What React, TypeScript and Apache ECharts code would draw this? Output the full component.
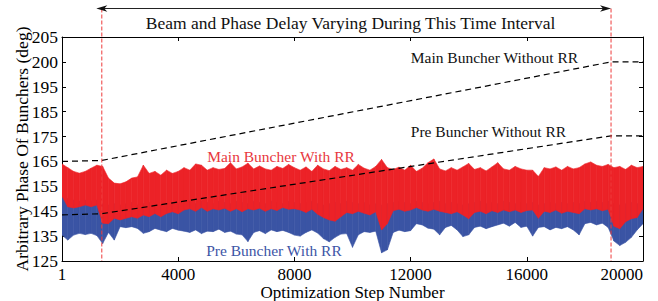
import React, { useEffect, useRef } from "react";
import * as echarts from "echarts";

const FONT = '"Liberation Serif", "Times New Roman", serif';

// Sampling grid of the noisy traces (optimization steps)
const SAMPLE_STEP = 200;

// Axis ticks
const xTickValues = [0, 4000, 8000, 12000, 16000, 20000];
const xTickLabels = ["1", "4000", "8000", "12000", "16000", "20000"];
const yTickLabels = ["125", "135", "145", "155", "165", "175", "185", "195", "200", "205"];

// Interval where beam and phase delay vary
const varyStart = 1370;
const varyEnd = 18900;

// Dashed traces (without RR)
const mainNoRRSteps = [0, 1370, 18900, 20000];
const mainNoRRValues = [165, 165.4, 205, 205];
const preNoRRSteps = [0, 1370, 18900, 20000];
const preNoRRValues = [143.5, 144, 175.3, 175.3];

// Envelope of "Main Buncher With RR" (every SAMPLE_STEP steps)
const mainRRHigh = [
  164, 162.5, 161, 160.3, 161, 162.3, 163.5, 163, 158.3, 156.3,
  156, 156.8, 158.3, 158.8, 163.5, 160.2, 161, 159.5, 161.5, 160.2,
  161, 162.5, 161.5, 164, 163.5, 161.5, 162.5, 161.8, 162.2, 164.5,
  162, 162.8, 164.3, 162, 163.2, 162, 161.5, 163, 162.2, 163.8,
  162.5, 161.5, 162.8, 161, 163.5, 162, 161.3, 163, 161.8, 162.5,
  161.5, 163.8, 162.3, 161.5, 163, 165.8, 162.5, 161.8, 162.7, 161.5,
  163.5, 161, 162.3, 164.5, 166, 162, 161.2, 162.5, 161.5, 162.8,
  164.2, 161.8, 162.5, 161.2, 162.8, 164.5, 162, 161.5, 163, 162,
  161.5, 161.5, 159, 162.5, 162, 162.8, 161.5, 163, 162, 162.5,
  164, 164.8, 163.5, 163, 163.8, 162.5, 163, 161.8, 163.5, 162.5,
  163,
];
const mainRRLow = [
  151, 146.8, 146.3, 146.8, 147.5, 146.8, 147.5, 140.2, 140, 142.2,
  141.5, 142.2, 142.8, 142.2, 143.5, 142.8, 144.1, 142.8, 144.1, 144.8,
  144, 145.5, 146, 145, 146.5, 145, 146, 145.5, 146.2, 145,
  146, 144.8, 146, 145.5, 146.2, 145, 146, 145.3, 146.5, 145.8,
  146, 145.5, 144.5, 145.8, 143.8, 142.5, 141.5, 141, 142.8, 144.5,
  144, 145, 144.2, 143.5, 144.8, 137.5, 140, 145.2, 145.8, 145,
  145.5, 146.5, 145.5, 145, 145.8, 145, 144.5, 144, 144.8, 143.5,
  142, 144.5, 145, 144, 145.2, 144.5, 145.5, 144.8, 145.5, 144.5,
  145.3, 145.5, 142.2, 145, 144.5, 145.5, 144.2, 145, 144.5, 144,
  146, 145.5, 146, 145.2, 145.8, 139, 138, 140.8, 142, 142.5,
  146,
];

// Envelope of "Pre Buncher With RR"
const preRRHigh = [
  151, 150, 149.5, 149, 149.5, 149, 149.5, 148, 147.5, 148,
  147.5, 148, 148.5, 147.5, 148, 148.5, 148, 147.5, 148, 148.5,
  148, 148.5, 149, 148, 149, 148.5, 148, 149, 148.5, 148,
  149, 148.5, 148, 149, 148.5, 148, 149, 148.5, 148, 149,
  148.5, 148, 148.5, 149, 148, 147.5, 148, 148.5, 148, 149,
  148.5, 148, 148.5, 147.5, 148, 147.5, 148, 148.5, 149, 148.5,
  148, 149, 148.5, 148, 148.5, 149, 148, 148.5, 148, 147.5,
  148, 148.5, 149, 148, 148.5, 148, 149, 148.5, 148, 148.5,
  148, 148.5, 147.5, 148, 148.5, 148, 148.5, 148, 148.5, 148,
  149, 148.5, 149, 148.5, 149, 148, 147.5, 148, 148.5, 148,
  149,
];
const preRRLow = [
  135.4, 133.4, 135.4, 136.1, 135.6, 136.1, 135.2, 132, 136.5, 133.4,
  138.8, 138.4, 138.8, 138.1, 136.1, 136.8, 138.1, 137.4, 136.8, 138.1,
  137.4, 137, 136.5, 137.5, 136, 137, 136.8, 137.8, 136.5, 137,
  135.8, 135.5, 132.8, 136.5, 137.2, 136, 137.5, 136.8, 137.3, 136.5,
  135.4, 135, 136.5, 137.5, 136.2, 134, 132.7, 134.5, 135.8, 136,
  130.5, 135.5, 136.8, 136.5, 137, 128.3, 129.5, 136.5, 137.4, 136.8,
  137.2, 140, 139.5, 138.2, 137.8, 135.5, 138.5, 139.3, 137.5, 134.8,
  135.5, 138.5, 139, 138, 138.8, 139.5, 140.2, 139, 140.5, 138.5,
  139, 135, 138.5, 138.8, 137.5, 138.5, 138, 138.8, 137.5, 135.5,
  140, 140.5, 139.5, 140.2, 138.5, 133, 131.2, 132.5, 134.5, 137.5,
  140,
];

const RED = "#ec2227";
const BLUE = "#3a54a4";
const RED_TEXT = "#e8383d";
const BLUE_TEXT = "#3d55a6";

function bandItems(lo: number[], hi: number[]) {
  const items: number[][] = [];
  for (let i = 0; i < lo.length - 1; i++) {
    items.push([i * SAMPLE_STEP, lo[i], hi[i], (i + 1) * SAMPLE_STEP, lo[i + 1], hi[i + 1]]);
  }
  return items;
}

function bandSeries(name: string, lo: number[], hi: number[], color: string) {
  return {
    type: "custom",
    name,
    clip: true,
    encode: { x: [0, 3], y: [1, 2, 4, 5] },
    data: bandItems(lo, hi),
    renderItem: (_params: any, api: any) => {
      const p1 = api.coord([api.value(0), api.value(2)]);
      const p2 = api.coord([api.value(3), api.value(5)]);
      const p3 = api.coord([api.value(3), api.value(4)]);
      const p4 = api.coord([api.value(0), api.value(1)]);
      return {
        type: "polygon",
        shape: { points: [p1, p2, p3, p4] },
        style: { fill: color, stroke: color, lineWidth: 0.6 },
      };
    },
  };
}

function pairs(xs: number[], ys: number[]) {
  return xs.map((x, i) => [x, ys[i]]);
}

const axisLineStyle = { show: true, onZero: false, lineStyle: { color: "#000", width: 1 } };
const tickStyle = { show: true, inside: true, length: 4, lineStyle: { color: "#000", width: 1 } };

function textEl(text: string, x: number, y: number, size: number, color: string) {
  return {
    type: "text",
    x,
    y,
    z: 100,
    style: {
      text,
      fill: color,
      fontFamily: FONT,
      fontSize: size,
      align: "center",
      verticalAlign: "middle",
      textAlign: "center",
      textVerticalAlign: "middle",
    },
  };
}

export default function App() {
  const ref = useRef<HTMLDivElement>(null);

  useEffect(() => {
    const chart = echarts.init(ref.current!, null, { renderer: "svg" });
    const option: any = {
      animation: false,
      textStyle: { fontFamily: FONT },
      grid: { left: 62, right: 15, top: 37, bottom: 40, containLabel: false, outerBoundsMode: "none" },
      xAxis: [
        {
          type: "value",
          min: 0,
          max: 20000,
          interval: 4000,
          position: "bottom",
          name: "Optimization Step Number",
          nameLocation: "middle",
          nameGap: 23,
          nameMoveOverlap: false,
          nameTextStyle: { fontFamily: FONT, fontSize: 17, color: "#000" },
          axisLine: axisLineStyle,
          axisTick: tickStyle,
          axisLabel: {
            fontFamily: FONT,
            fontSize: 17,
            color: "#000",
            margin: 5,
            alignMaxLabel: "right",
            formatter: (v: number) => {
              const i = xTickValues.indexOf(v);
              return i >= 0 ? xTickLabels[i] : "";
            },
          },
          splitLine: { show: false },
        },
        {
          type: "value",
          min: 0,
          max: 20000,
          interval: 4000,
          position: "top",
          axisLine: axisLineStyle,
          axisTick: tickStyle,
          axisLabel: { show: false },
          splitLine: { show: false },
        },
      ],
      yAxis: [
        {
          type: "value",
          min: 125,
          max: 215,
          interval: 10,
          position: "left",
          name: "Arbitrary Phase Of Bunchers (deg)",
          nameLocation: "middle",
          nameGap: 31,
          nameMoveOverlap: false,
          nameTextStyle: { fontFamily: FONT, fontSize: 17.5, color: "#000" },
          axisLine: axisLineStyle,
          axisTick: tickStyle,
          axisLabel: {
            fontFamily: FONT,
            fontSize: 17.5,
            color: "#000",
            margin: 4,
            formatter: (v: number) => yTickLabels[Math.round((v - 125) / 10)] ?? "",
          },
          splitLine: { show: false },
        },
        {
          type: "value",
          min: 125,
          max: 215,
          interval: 10,
          position: "right",
          axisLine: axisLineStyle,
          axisTick: tickStyle,
          axisLabel: { show: false },
          splitLine: { show: false },
        },
      ],
      series: [
        bandSeries("Pre Buncher With RR", preRRLow, preRRHigh, BLUE),
        bandSeries("Main Buncher With RR", mainRRLow, mainRRHigh, RED),
        {
          type: "line",
          name: "Main Buncher Without RR",
          data: pairs(mainNoRRSteps, mainNoRRValues),
          symbol: "none",
          lineStyle: { color: "#000", width: 1.2, type: [6, 4] },
          z: 5,
        },
        {
          type: "line",
          name: "Pre Buncher Without RR",
          data: pairs(preNoRRSteps, preNoRRValues),
          symbol: "none",
          lineStyle: { color: "#000", width: 1.2, type: [6, 4] },
          z: 5,
        },
      ],
    };
    chart.setOption(option);

    const xL = chart.convertToPixel({ xAxisIndex: 0 }, varyStart) as number;
    const xR = chart.convertToPixel({ xAxisIndex: 0 }, varyEnd) as number;
    const yBottom = chart.convertToPixel({ yAxisIndex: 0 }, 125) as number;
    const arrowY = 8.5;
    const leftTip = xL - 5.5;
    const rightTip = xR;

    chart.setOption({
      graphic: [
        {
          type: "line",
          z: 90,
          shape: { x1: xL, y1: arrowY, x2: xL, y2: yBottom },
          style: { stroke: "#ee3a3a", lineWidth: 1, lineDash: [4, 2] },
        },
        {
          type: "line",
          z: 90,
          shape: { x1: xR, y1: arrowY, x2: xR, y2: yBottom },
          style: { stroke: "#ee3a3a", lineWidth: 1, lineDash: [4, 2] },
        },
        {
          type: "line",
          z: 91,
          shape: { x1: leftTip + 4, y1: arrowY, x2: rightTip - 4, y2: arrowY },
          style: { stroke: "#222", lineWidth: 1 },
        },
        {
          type: "polygon",
          z: 92,
          shape: {
            points: [
              [leftTip, arrowY],
              [leftTip + 11, arrowY - 3.2],
              [leftTip + 8, arrowY],
              [leftTip + 11, arrowY + 3.2],
            ],
          },
          style: { fill: "#111" },
        },
        {
          type: "polygon",
          z: 92,
          shape: {
            points: [
              [rightTip, arrowY],
              [rightTip - 11, arrowY - 3.2],
              [rightTip - 8, arrowY],
              [rightTip - 11, arrowY + 3.2],
            ],
          },
          style: { fill: "#111" },
        },
        textEl("Beam and Phase Delay Varying During This Time Interval", 350.5, 23, 17.5, "#111"),
        textEl("Main Buncher Without RR", 494.5, 57, 15.5, "#111"),
        textEl("Pre Buncher Without RR", 488.5, 131, 15.5, "#111"),
        textEl("Main Buncher With RR", 281, 156, 15.5, RED_TEXT),
        textEl("Pre Buncher With RR", 274, 250, 15.5, BLUE_TEXT),
      ],
    });

    return () => chart.dispose();
  }, []);

  return (
    <div
      ref={ref}
      style={{ position: "fixed", left: 0, top: 0, width: 658, height: 301, background: "#fff" }}
    />
  );
}
